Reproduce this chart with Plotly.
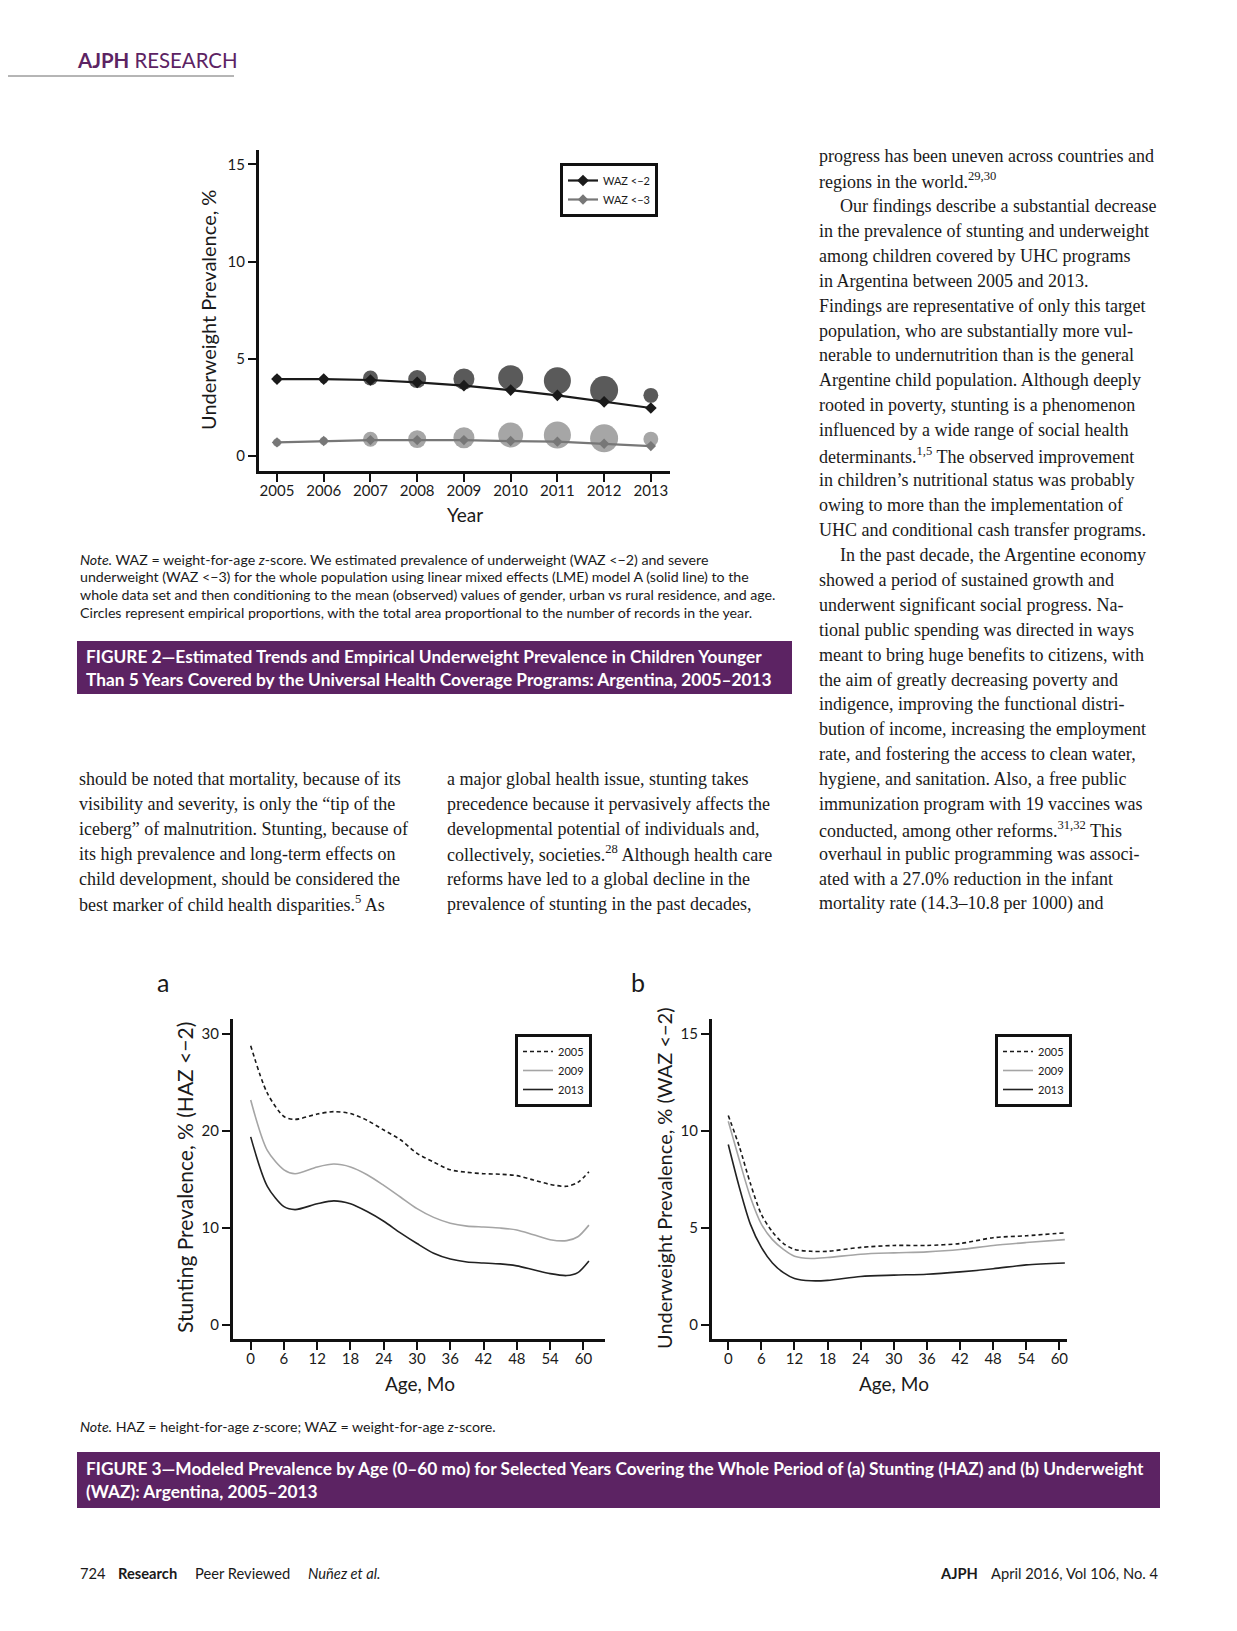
import plotly.graph_objects as go

# ---------------- DATA ----------------
years = [2005, 2006, 2007, 2008, 2009, 2010, 2011, 2012, 2013]
waz2_model = [3.96, 3.96, 3.91, 3.79, 3.62, 3.39, 3.12, 2.79, 2.47]
waz3_model = [0.70, 0.77, 0.82, 0.82, 0.82, 0.77, 0.74, 0.63, 0.51]
waz2_observed = [3.96, 3.94, 4.01, 3.96, 3.96, 4.03, 3.87, 3.39, 3.12]
waz3_observed = [0.70, 0.77, 0.86, 0.87, 0.94, 1.08, 1.08, 0.91, 0.87]
records_k = [5, 5, 22, 32, 44, 62, 73, 78, 22]

ages_a = [0, 3, 6, 8, 12, 15, 18, 21, 24, 27, 30, 33, 36, 39, 42, 45, 48, 51, 54, 57, 59, 61]
stunt_2005 = [28.8, 23.9, 21.5, 21.2, 21.75, 22.0, 21.8, 21.1, 20.1, 19.1, 17.7, 16.8, 16.0, 15.75,
              15.6, 15.55, 15.4, 14.95, 14.5, 14.3, 14.7, 15.8]
stunt_2009 = [23.2, 18.0, 16.0, 15.6, 16.3, 16.6, 16.3, 15.5, 14.4, 13.2, 12.0, 11.1, 10.5, 10.2,
              10.1, 10.0, 9.8, 9.3, 8.8, 8.7, 9.1, 10.3]
stunt_2013 = [19.4, 14.3, 12.2, 11.9, 12.5, 12.8, 12.5, 11.7, 10.7, 9.5, 8.4, 7.4, 6.8, 6.5,
              6.4, 6.3, 6.1, 5.7, 5.3, 5.1, 5.4, 6.6]

ages_b = [0, 2, 4, 6, 8, 10, 12, 15, 18, 24, 30, 36, 42, 48, 54, 61]
uw_2005 = [10.8, 9.2, 7.3, 5.7, 4.8, 4.2, 3.9, 3.8, 3.8, 4.0, 4.1, 4.1, 4.2, 4.5, 4.6, 4.75]
uw_2009 = [10.5, 8.5, 6.6, 5.2, 4.4, 3.9, 3.55, 3.43, 3.48, 3.65, 3.72, 3.77, 3.89, 4.1, 4.25, 4.4]
uw_2013 = [9.3, 7.1, 5.2, 4.0, 3.2, 2.7, 2.4, 2.28, 2.3, 2.5, 2.57, 2.62, 2.74, 2.9, 3.1, 3.2]

fig2_yticks = [0, 5, 10, 15]
fig3a_yticks = [0, 10, 20, 30]
fig3b_yticks = [0, 5, 10, 15]
age_ticks = [0, 6, 12, 18, 24, 30, 36, 42, 48, 54, 60]

right_col = [
    "progress has been uneven across countries and",
    "regions in the world.<sup>29,30</sup>",
    "Our findings describe a substantial decrease",
    "in the prevalence of stunting and underweight",
    "among children covered by UHC programs",
    "in Argentina between 2005 and 2013.",
    "Findings are representative of only this target",
    "population, who are substantially more vul-",
    "nerable to undernutrition than is the general",
    "Argentine child population. Although deeply",
    "rooted in poverty, stunting is a phenomenon",
    "influenced by a wide range of social health",
    "determinants.<sup>1,5</sup> The observed improvement",
    "in children’s nutritional status was probably",
    "owing to more than the implementation of",
    "UHC and conditional cash transfer programs.",
    "In the past decade, the Argentine economy",
    "showed a period of sustained growth and",
    "underwent significant social progress. Na-",
    "tional public spending was directed in ways",
    "meant to bring huge benefits to citizens, with",
    "the aim of greatly decreasing poverty and",
    "indigence, improving the functional distri-",
    "bution of income, increasing the employment",
    "rate, and fostering the access to clean water,",
    "hygiene, and sanitation. Also, a free public",
    "immunization program with 19 vaccines was",
    "conducted, among other reforms.<sup>31,32</sup> This",
    "overhaul in public programming was associ-",
    "ated with a 27.0% reduction in the infant",
    "mortality rate (14.3–10.8 per 1000) and",
]
right_indent = {2, 16}

left_col = [
    "should be noted that mortality, because of its",
    "visibility and severity, is only the “tip of the",
    "iceberg” of malnutrition. Stunting, because of",
    "its high prevalence and long-term effects on",
    "child development, should be considered the",
    "best marker of child health disparities.<sup>5</sup> As",
]
mid_col = [
    "a major global health issue, stunting takes",
    "precedence because it pervasively affects the",
    "developmental potential of individuals and,",
    "collectively, societies.<sup>28</sup> Although health care",
    "reforms have led to a global decline in the",
    "prevalence of stunting in the past decades,",
]

note2 = [
    "<i>Note.</i> WAZ = weight-for-age <i>z</i>-score. We estimated prevalence of underweight (WAZ &lt;−2) and severe",
    "underweight (WAZ &lt;−3) for the whole population using linear mixed effects (LME) model A (solid line) to the",
    "whole data set and then conditioning to the mean (observed) values of gender, urban vs rural residence, and age.",
    "Circles represent empirical proportions, with the total area proportional to the number of records in the year.",
]
caption2 = [
    "FIGURE 2—Estimated Trends and Empirical Underweight Prevalence in Children Younger",
    "Than 5 Years Covered by the Universal Health Coverage Programs: Argentina, 2005–2013",
]
note3 = "<i>Note.</i> HAZ = height-for-age <i>z</i>-score; WAZ = weight-for-age <i>z</i>-score."
caption3 = [
    "FIGURE 3—Modeled Prevalence by Age (0–60 mo) for Selected Years Covering the Whole Period of (a) Stunting (HAZ) and (b) Underweight",
    "(WAZ): Argentina, 2005–2013",
]

# ---------------- LAYOUT HELPERS ----------------
W, H = 1237, 1631
BODY = 8  # default page margin around the plot div
FW, FH = W - 2 * BODY, H - 2 * BODY
PURPLE = "#5c2363"
SANS = "Lato"
SERIF = "Liberation Serif"
INK = "#1a1a1a"


def fx(p):
    return (p - BODY) / FW


def fy(p):
    return 1 - (p - BODY) / FH


fig = go.Figure()

# ---- Figure 2 ----
sizeref = 2.0 * max(records_k) / (28 ** 2)
fig.add_trace(go.Scatter(x=years, y=waz2_observed, mode="markers", xaxis="x", yaxis="y",
                         marker=dict(size=records_k, sizemode="area", sizeref=sizeref, sizemin=4,
                                     color="#5a5a5a", opacity=1, line=dict(width=0)),
                         showlegend=False, hoverinfo="skip"))
fig.add_trace(go.Scatter(x=years, y=waz3_observed, mode="markers", xaxis="x", yaxis="y",
                         marker=dict(size=records_k, sizemode="area", sizeref=sizeref, sizemin=4,
                                     color="#a6a6a6", opacity=1, line=dict(width=0)),
                         showlegend=False, hoverinfo="skip"))
fig.add_trace(go.Scatter(x=years, y=waz2_model, mode="lines+markers", xaxis="x", yaxis="y",
                         name="WAZ &lt;−2", legend="legend",
                         line=dict(color="#1a1a1a", width=2.2),
                         marker=dict(symbol="diamond", size=9, color="#1a1a1a")))
fig.add_trace(go.Scatter(x=years, y=waz3_model, mode="lines+markers", xaxis="x", yaxis="y",
                         name="WAZ &lt;−3", legend="legend",
                         line=dict(color="#777777", width=2.2),
                         marker=dict(symbol="diamond", size=8, color="#777777")))

# ---- Figure 3a / 3b ----
styles = [("2005", dict(color="#1a1a1a", width=1.6, dash="4px,3px")),
          ("2009", dict(color="#a5a5a5", width=1.6)),
          ("2013", dict(color="#222222", width=1.6))]
for (name, st), ys in zip(styles, [stunt_2005, stunt_2009, stunt_2013]):
    fig.add_trace(go.Scatter(x=ages_a, y=ys, mode="lines", xaxis="x2", yaxis="y2", name=name,
                             legend="legend2", line=dict(shape="spline", smoothing=0.8, **st)))
for (name, st), ys in zip(styles, [uw_2005, uw_2009, uw_2013]):
    fig.add_trace(go.Scatter(x=ages_b, y=ys, mode="lines", xaxis="x3", yaxis="y3", name=name,
                             legend="legend3", line=dict(shape="spline", smoothing=0.8, **st)))

axis_common = dict(showline=True, linecolor="#111111", linewidth=3, ticks="outside", ticklen=8,
                   tickwidth=2, tickcolor="#111111", showgrid=False, zeroline=False,
                   tickfont=dict(family=SANS, size=15, color=INK), fixedrange=True)
xaxis_extra = dict(ticklabelstandoff=-4)

# pixel geometry of plot areas
f2 = dict(l=259, r=670, t=150, b=471)
f3a = dict(l=233, r=605, t=1019, b=1339)
f3b = dict(l=712, r=1067, t=1019, b=1339)

fig.update_layout(
    xaxis=dict(domain=[fx(f2["l"]), fx(f2["r"])], range=[2004.615, 2013.41], tickvals=years,
               anchor="y", **axis_common, **xaxis_extra),
    yaxis=dict(domain=[fy(f2["b"]), fy(f2["t"])], range=[-0.77, 15.74], tickvals=fig2_yticks,
               anchor="x", **axis_common),
    xaxis2=dict(domain=[fx(f3a["l"]), fx(f3a["r"])], range=[-3.19, 63.9], tickvals=age_ticks,
                anchor="y2", **axis_common, **xaxis_extra),
    yaxis2=dict(domain=[fy(f3a["b"]), fy(f3a["t"])], range=[-1.44, 31.55], tickvals=fig3a_yticks,
                anchor="x2", **axis_common),
    xaxis3=dict(domain=[fx(f3b["l"]), fx(f3b["r"])], range=[-2.95, 61.39], tickvals=age_ticks,
                anchor="y3", **axis_common, **xaxis_extra),
    yaxis3=dict(domain=[fy(f3b["b"]), fy(f3b["t"])], range=[-0.72, 15.77], tickvals=fig3b_yticks,
                anchor="x3", **axis_common),
)

legend_common = dict(bgcolor="white", bordercolor="#111111", borderwidth=3,
                     font=dict(family=SANS, size=11, color=INK), xanchor="left", yanchor="top",
                     itemclick=False, itemdoubleclick=False, tracegroupgap=0)
fig.update_layout(
    legend=dict(x=fx(560), y=fy(163), **legend_common),
    legend2=dict(x=fx(515), y=fy(1034), **legend_common),
    legend3=dict(x=fx(995), y=fy(1034), **legend_common),
)

ann = []


def text(x, y, s, size, family=SANS, color=INK, xanchor="left", angle=0, yanchor="middle"):
    ann.append(dict(x=fx(x), y=fy(y), xref="paper", yref="paper", text=s, showarrow=False,
                    xanchor=xanchor, yanchor=yanchor, textangle=angle,
                    font=dict(family=family, size=size, color=color)))


# axis titles and panel letters
text(208, 310, "Underweight Prevalence, %", 20, xanchor="center", angle=-90)
text(465, 514, "Year", 19, xanchor="center")
text(184, 1178, "Stunting Prevalence, % (HAZ &lt;−2)", 21, xanchor="center", angle=-90)
text(420, 1383, "Age, Mo", 19, xanchor="center")
text(664, 1178, "Underweight Prevalence, % (WAZ &lt;−2)", 20, xanchor="center", angle=-90)
text(894, 1383, "Age, Mo", 19, xanchor="center")
text(163, 982, "a", 25, xanchor="center")
text(638, 982, "b", 25, xanchor="center")

# header
text(75, 60, "<b>AJPH</b> RESEARCH", 20.4, color=PURPLE)

# body text columns
for i, s in enumerate(right_col):
    text(817 + (21 if i in right_indent else 0), 156 + i * 24.93, s, 18, family=SERIF)
for i, s in enumerate(left_col):
    text(77, 779 + i * 24.97, s, 18, family=SERIF)
for i, s in enumerate(mid_col):
    text(445, 779 + i * 24.97, s, 18, family=SERIF)

# notes and captions
for i, s in enumerate(note2):
    text(78, 559 + i * 17.9, s, 14.2)
for i, s in enumerate(caption2):
    text(84, 656 + i * 23, "<b>" + s + "</b>", 17.3, color="white")
text(78, 1426, note3, 14.2)
for i, s in enumerate(caption3):
    text(84, 1468 + i * 23, "<b>" + s + "</b>", 17.3, color="white")

# footer
text(78, 1573, "724", 14.7)
text(116, 1573, "<b>Research</b>", 14.7)
text(193, 1573, "Peer Reviewed", 14.7)
text(306, 1573, "<i>Nuñez et al.</i>", 14.7)
text(938, 1573, "<b>AJPH</b>", 14.7)
text(1160, 1573, "April 2016, Vol 106, No. 4", 14.7, xanchor="right")

shapes = [
    dict(type="line", xref="paper", yref="paper", x0=fx(0), x1=fx(234), y0=fy(76), y1=fy(76),
         line=dict(color="#6d6d6d", width=1)),
    dict(type="rect", xref="paper", yref="paper", x0=fx(77), x1=fx(792), y0=fy(694), y1=fy(641),
         fillcolor=PURPLE, line=dict(width=0), layer="below"),
    dict(type="rect", xref="paper", yref="paper", x0=fx(77), x1=fx(1160), y0=fy(1508), y1=fy(1452),
         fillcolor=PURPLE, line=dict(width=0), layer="below"),
]

fig.update_layout(width=FW, height=FH, margin=dict(l=0, r=0, t=0, b=0), paper_bgcolor="white",
                  plot_bgcolor="white", annotations=ann, shapes=shapes, hovermode=False,
                  font=dict(family=SANS, color=INK))

fig.write_html("out.html")
